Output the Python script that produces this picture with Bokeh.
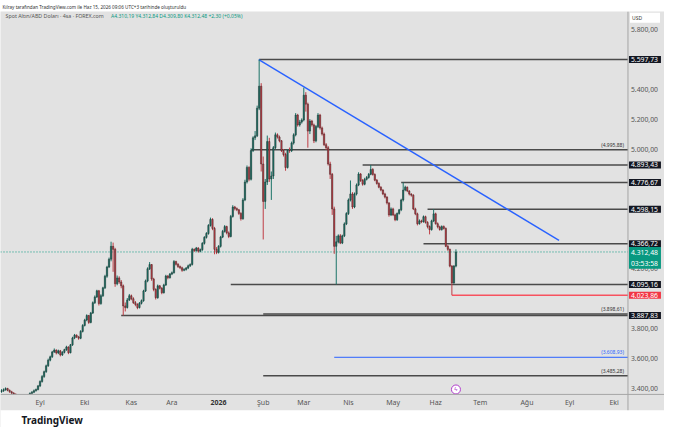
import numpy as np
import pandas as pd
from bokeh.plotting import figure
from bokeh.models import Range1d, Label, ColumnDataSource, Span
from bokeh.embed import file_html
from bokeh.resources import INLINE

# ---------------- data (daily bars) ----------------
first_bar = "2025-08-05"
last_bar = "2026-06-15"
axis_anchor = "2025-09-01"

opens = [3380, 3385, 3392, 3400, 3388, 3378, 3370, 3362, 3350, 3342,
         3336, 3345, 3338, 3346, 3354, 3368, 3376, 3386, 3394, 3418,
         3447, 3480, 3513, 3552, 3590, 3612, 3645, 3657, 3638, 3652,
         3625, 3642, 3660, 3678, 3640, 3692, 3738, 3757, 3745, 3736,
         3782, 3822, 3858, 3888, 3842, 3905, 3974, 4012, 4053, 3968,
         4020, 4073, 4150, 4212, 4264, 4350, 4330, 4100, 4139, 4112,
         4086, 3952, 3941, 3992, 4020, 4000, 3974, 3962, 3941, 3970,
         3987, 4052, 4119, 4200, 4228, 4132, 4062, 4007, 4086, 4070,
         4040, 4092, 4152, 4140, 4165, 4174, 4248, 4230, 4215, 4207,
         4190, 4196, 4205, 4220, 4229, 4330, 4322, 4339, 4318, 4328,
         4370, 4410, 4436, 4490, 4530, 4470, 4330, 4310, 4350, 4412,
         4450, 4482, 4440, 4416, 4550, 4613, 4602, 4594, 4570, 4534,
         4660, 4780, 4877, 4798, 4990, 5075, 5088, 5273, 5420, 4900,
         4650, 4780, 5050, 4800, 4820, 5009, 5095, 5080, 5055, 4990,
         4963, 4877, 4990, 4989, 5040, 5095, 5227, 5161, 5180, 5194,
         5360, 5300, 5120, 5187, 5161, 5055, 5150, 5227, 5141, 5100,
         5029, 5009, 4900, 4831, 4600, 4350, 4380, 4420, 4372, 4420,
         4500, 4569, 4660, 4700, 4613, 4700, 4760, 4833, 4790, 4765,
         4798, 4810, 4831, 4864, 4830, 4792, 4770, 4745, 4726, 4700,
         4679, 4640, 4560, 4600, 4560, 4528, 4570, 4594, 4660, 4726,
         4745, 4720, 4699, 4692, 4600, 4567, 4501, 4520, 4515, 4548,
         4510, 4482, 4462, 4520, 4567, 4501, 4480, 4462, 4482, 4470,
         4350, 4330, 4218, 4106, 4218]

highs = [3396, 3401, 3408, 3405, 3394, 3385, 3376, 3368, 3357, 3349,
         3352, 3350, 3353, 3360, 3374, 3383, 3394, 3400, 3424, 3455,
         3490, 3520, 3560, 3600, 3620, 3652, 3668, 3662, 3660, 3658,
         3650, 3666, 3686, 3682, 3698, 3746, 3765, 3762, 3752, 3790,
         3830, 3866, 3896, 3892, 3912, 3982, 4022, 4060, 4059, 4030,
         4080, 4160, 4220, 4275, 4381, 4375, 4340, 4155, 4150, 4125,
         4095, 3975, 4005, 4032, 4028, 4010, 3985, 3970, 3978, 3995,
         4060, 4128, 4210, 4245, 4232, 4140, 4070, 4095, 4092, 4078,
         4100, 4160, 4158, 4172, 4182, 4258, 4254, 4238, 4222, 4214,
         4204, 4212, 4228, 4236, 4340, 4336, 4346, 4344, 4335, 4378,
         4418, 4445, 4498, 4542, 4538, 4480, 4345, 4358, 4420, 4460,
         4492, 4488, 4450, 4560, 4625, 4620, 4610, 4600, 4578, 4672,
         4795, 4890, 4885, 5005, 5085, 5120, 5290, 5597.73, 5440, 4950,
         4800, 5090, 5075, 4850, 5020, 5110, 5105, 5090, 5060, 5000,
         4975, 5000, 5010, 5050, 5105, 5240, 5235, 5195, 5205, 5410,
         5380, 5310, 5200, 5195, 5170, 5160, 5240, 5235, 5150, 5110,
         5040, 5020, 4915, 4840, 4615, 4420, 4430, 4432, 4428, 4510,
         4578, 4670, 4790, 4712, 4710, 4770, 4845, 4840, 4800, 4808,
         4820, 4840, 4893.43, 4872, 4838, 4800, 4778, 4752, 4732, 4708,
         4685, 4645, 4610, 4608, 4568, 4576, 4600, 4668, 4776.67, 4755,
         4750, 4725, 4705, 4698, 4608, 4575, 4530, 4528, 4556, 4555,
         4518, 4490, 4528, 4598.15, 4575, 4510, 4488, 4490, 4490, 4476,
         4360, 4335, 4225, 4225, 4330]

lows = [3372, 3378, 3386, 3382, 3372, 3362, 3355, 3342, 3334, 3328,
        3330, 3330, 3332, 3340, 3348, 3362, 3370, 3380, 3388, 3410,
        3440, 3472, 3505, 3545, 3582, 3605, 3638, 3628, 3630, 3615,
        3618, 3635, 3652, 3630, 3635, 3685, 3730, 3738, 3726, 3730,
        3775, 3815, 3850, 3832, 3836, 3898, 3965, 4005, 3955, 3960,
        4012, 4065, 4140, 4205, 4250, 4180, 4080, 4090, 4100, 4070,
        3887.83, 3915, 3935, 3985, 3990, 3965, 3950, 3930, 3935, 3962,
        3980, 4045, 4110, 4192, 4120, 4050, 3995, 4000, 4062, 4030,
        4035, 4085, 4130, 4135, 4158, 4168, 4222, 4206, 4198, 4180,
        4184, 4188, 4198, 4212, 4222, 4312, 4315, 4308, 4310, 4320,
        4362, 4402, 4428, 4482, 4458, 4297, 4298, 4302, 4342, 4405,
        4442, 4430, 4405, 4410, 4542, 4590, 4585, 4560, 4522, 4528,
        4652, 4770, 4785, 4790, 4980, 5060, 5080, 5260, 4850, 4396,
        4600, 4760, 4780, 4660, 4800, 5000, 5070, 5045, 4980, 4950,
        4855, 4870, 4975, 4980, 5030, 5085, 5150, 5150, 5170, 5185,
        5250, 5009, 5100, 5150, 5040, 5045, 5140, 5130, 5090, 5020,
        4995, 4890, 4800, 4560, 4300, 4095.16, 4370, 4365, 4365, 4412,
        4492, 4560, 4650, 4600, 4605, 4690, 4752, 4780, 4755, 4758,
        4790, 4802, 4825, 4822, 4785, 4762, 4738, 4718, 4692, 4670,
        4630, 4548, 4552, 4552, 4518, 4520, 4562, 4585, 4650, 4718,
        4712, 4690, 4682, 4592, 4558, 4490, 4495, 4505, 4508, 4502,
        4470, 4430, 4455, 4512, 4495, 4470, 4455, 4455, 4462, 4345,
        4320, 4210, 4023.86, 4100, 4210]

closes = [3385, 3392, 3400, 3388, 3378, 3370, 3362, 3350, 3342, 3336,
          3345, 3338, 3346, 3354, 3368, 3376, 3386, 3394, 3418, 3447,
          3480, 3513, 3552, 3590, 3612, 3645, 3657, 3638, 3652, 3625,
          3642, 3660, 3678, 3640, 3692, 3738, 3757, 3745, 3736, 3782,
          3822, 3858, 3888, 3842, 3905, 3974, 4012, 4053, 3968, 4020,
          4073, 4150, 4212, 4264, 4350, 4330, 4100, 4139, 4112, 4086,
          3952, 3941, 3992, 4020, 4000, 3974, 3962, 3941, 3970, 3987,
          4052, 4119, 4200, 4228, 4132, 4062, 4007, 4086, 4070, 4040,
          4092, 4152, 4140, 4165, 4174, 4248, 4230, 4215, 4207, 4190,
          4196, 4205, 4220, 4229, 4330, 4322, 4339, 4318, 4328, 4370,
          4410, 4436, 4490, 4530, 4470, 4330, 4310, 4350, 4412, 4450,
          4482, 4440, 4416, 4550, 4613, 4602, 4594, 4570, 4534, 4660,
          4780, 4877, 4798, 4990, 5075, 5088, 5273, 5420, 4900, 4650,
          4780, 5050, 4800, 4820, 5009, 5095, 5080, 5055, 4990, 4963,
          4877, 4990, 4989, 5040, 5095, 5227, 5161, 5180, 5194, 5360,
          5300, 5120, 5187, 5161, 5055, 5150, 5227, 5141, 5100, 5029,
          5009, 4900, 4831, 4600, 4350, 4380, 4420, 4372, 4420, 4500,
          4569, 4660, 4700, 4613, 4700, 4760, 4833, 4790, 4765, 4798,
          4810, 4831, 4864, 4830, 4792, 4770, 4745, 4726, 4700, 4679,
          4640, 4560, 4600, 4560, 4528, 4570, 4594, 4660, 4726, 4745,
          4720, 4699, 4692, 4600, 4567, 4501, 4520, 4515, 4548, 4510,
          4482, 4462, 4520, 4567, 4501, 4480, 4462, 4482, 4470, 4350,
          4330, 4218, 4106, 4218, 4312.48]

# drawn horizontal levels (price, first bar index counted from axis_anchor)
level_prices = [5597.73, 4995.88, 4893.43, 4776.67, 4598.15, 4366.72, 4095.16, 3898.61, 3887.83, 3485.28]
level_start = [108, 104, 159, 178, 191, 189, 94, 110, 40, 110]
tagged_levels = [5597.73, 4893.43, 4776.67, 4598.15, 4366.72, 4095.16, 3887.83]
note_levels = [4995.88, 3898.61, 3485.28]
blue_level = [3608.93]
blue_level_start = [145]
red_level = [4023.86]
red_level_start = [203]
last_price = 4312.48
countdown = "03:53:58"

trend_x = [107.8, 255.8]
trend_y = [5597.73, 4390.0]

event_bar = [205]
event_price = [3394]

month_starts = ["2025-09-01", "2025-10-01", "2025-11-01", "2025-12-01", "2026-01-01",
                "2026-02-01", "2026-03-01", "2026-04-01", "2026-05-01", "2026-06-01",
                "2026-07-01", "2026-08-01", "2026-09-01", "2026-10-01"]
month_labels = ["Eyl", "Eki", "Kas", "Ara", "2026", "Şub", "Mar", "Nis", "May", "Haz",
                "Tem", "Ağu", "Eyl", "Eki"]

price_ticks = [3400, 3600, 3800, 4200, 5000, 5200, 5400, 5800]   # the ones not hidden by tags

header_text = "Kılray tarafından TradingView.com ile Haz 15, 2026 09:06 UTC+3 tarihinde oluşturuldu"
symbol_text = "Spot Altın/ABD Doları · 4sa · FOREX.com"
ohlc_text = "A4.310,19  Y4.312,84  D4.309,80  K4.312,48  +2,30 (+0,05%)"
brand_text = "TradingView"

# ---------------- styling ----------------
BG = "#e2e2e2"
UP = "#1b7468"
DOWN = "#bf3e46"
LEVEL = "#4a4a4a"
SCALE_LINE = "#a5a5a5"
FONT = "Noto Sans"


def tr(v):
    s = f"{v:,.2f}"
    return s.replace(",", "#").replace(".", ",").replace("#", ".")


dates = pd.bdate_range(first_bar, last_bar).values.astype("datetime64[D]")
anchor = np.datetime64(axis_anchor)
bar_x = np.busday_count(anchor, dates)
o = np.array(opens, float)
h = np.array(highs, float)
l = np.array(lows, float)
c = np.array(closes, float)
assert len(bar_x) == len(o) == len(h) == len(l) == len(c)

src = ColumnDataSource(dict(x=bar_x, h=h, l=l, top=np.maximum(o, c), bottom=np.minimum(o, c),
                            color=np.where(c >= o, UP, DOWN)))

X0, X1, XR = -19.5, 289.8, 307.8               # chart start, price-scale border, window edge
YW, YB, YP, Y1 = 3140.0, 3255.5, 3361.0, 5918.7  # page bottom, time-strip bottom, pane bottom, pane top
Y_BRAND = 3190.0

p = figure(width=664, height=427, output_backend="svg", toolbar_location=None,
           x_range=Range1d(X0, XR), y_range=Range1d(YW, Y1),
           x_axis_location=None, y_axis_location=None,
           background_fill_color=BG, border_fill_color="white",
           min_border_left=0, min_border_right=0, min_border_top=0, min_border_bottom=0)
p.grid.visible = False
p.outline_line_color = None

p.title.text = header_text
p.title.text_font = FONT
p.title.text_font_size = "4.6px"
p.title.text_font_style = "normal"
p.title.text_color = "#333333"
p.title.offset = 2
p.title.standoff = 3

# current price dotted line
p.line([X0, X1], [last_price, last_price], line_color="#089981", line_width=1, line_dash="1 2")

# horizontal levels
p.segment(x0=level_start, y0=level_prices, x1=[X1] * len(level_prices), y1=level_prices,
          line_color=LEVEL, line_width=1.5)
p.segment(x0=blue_level_start, y0=blue_level, x1=[X1], y1=blue_level, line_color="#2962ff", line_width=1)
p.segment(x0=red_level_start, y0=red_level, x1=[X1], y1=red_level, line_color="#f7525f", line_width=1.5)

# trend line
p.line(trend_x, trend_y, line_color="#2962ff", line_width=1.4)

# candles
p.segment(x0="x", y0="l", x1="x", y1="h", line_color="color", line_width=1, source=src)
p.vbar(x="x", width=0.7, top="top", bottom="bottom", fill_color="color", line_color="#222222",
       line_width=0.4, source=src)

# time strip (covers what falls below the pane) with month labels
p.quad(left=[X0], right=[XR], bottom=[YB], top=[YP], fill_color=BG, line_color=None)
p.add_layout(Span(location=YP, dimension="width", line_color=SCALE_LINE, line_width=1))
month_x = np.busday_count(anchor, np.array(month_starts, dtype="datetime64[D]"))
is_year = [lab.isdigit() for lab in month_labels]
msrc = ColumnDataSource(dict(x=month_x, y=[(YB + YP) / 2] * len(month_x), text=month_labels,
                             style=["bold" if f else "normal" for f in is_year],
                             color=["#333333" if f else "#555555" for f in is_year]))
p.text(x="x", y="y", text="text", text_font_style="style", text_color="color", source=msrc,
       text_font_size="7px", text_align="center", text_baseline="middle", text_font={"value": FONT})

# white page area below the chart with the brand
p.quad(left=[X0], right=[XR], bottom=[YW], top=[YB], fill_color="white", line_color=None)
p.text(x=[-9.2], y=[Y_BRAND], text=[brand_text], text_font_size="10px",
       text_font_style="bold", text_color="#131722", text_align="left", text_baseline="middle",
       text_font={"value": FONT})

# event marker
p.scatter(event_bar, event_price, size=9, marker="circle", fill_color="white",
          line_color="#b13bcc", line_width=1)
p.text(event_bar, event_price, text=["ϟ"], text_font_size="6px", text_align="center",
       text_baseline="middle", text_color="#b13bcc")

# price scale border and labels
p.segment(x0=[X1], y0=[YB], x1=[X1], y1=[Y1], line_color=SCALE_LINE, line_width=1)
p.text(x=[X1] * len(price_ticks), y=price_ticks, text=[tr(t) for t in price_ticks], x_offset=3,
       text_font_size="6.8px", text_color="#555555", text_align="left", text_baseline="middle",
       text_font={"value": FONT})

# symbol legend
p.add_layout(Label(x=-17.0, y=5886, text=symbol_text, text_font=FONT, text_font_size="5.3px",
                   text_color="#555555", text_baseline="middle"))
p.add_layout(Label(x=35.0, y=5886, text=ohlc_text, text_font=FONT, text_font_size="5px",
                   text_color="#089981", text_baseline="middle"))

# notes above levels
for v in note_levels:
    p.add_layout(Label(x=X1, y=v, x_offset=-4, y_offset=2, text=f"({tr(v)})", text_align="right",
                       text_baseline="bottom", text_font=FONT, text_font_size="5px", text_color="#333333"))
p.add_layout(Label(x=X1, y=blue_level[0], x_offset=-4, y_offset=2, text=f"({tr(blue_level[0])})",
                   text_align="right", text_baseline="bottom", text_font=FONT, text_font_size="5px",
                   text_color="#2962ff"))

# price tags on the scale
pad = dict(left=2, right=3, top=1, bottom=1)
for v in tagged_levels:
    p.add_layout(Label(x=X1, y=v, x_offset=1, text=tr(v), text_align="left", text_baseline="middle",
                       text_font=FONT, text_font_size="6.8px", text_color="white",
                       background_fill_color="#131722", padding=pad))
p.add_layout(Label(x=X1, y=red_level[0], x_offset=1, text=tr(red_level[0]), text_align="left",
                   text_baseline="middle", text_font=FONT, text_font_size="6.8px", text_color="white",
                   background_fill_color="#f23645", padding=pad))
p.add_layout(Label(x=X1, y=last_price, x_offset=1, y_offset=5, text=f"{tr(last_price)}\n{countdown}",
                   text_align="left", text_baseline="top", text_font=FONT, text_font_size="6.8px",
                   text_color="white", background_fill_color="#089981", padding=pad))
p.add_layout(Label(x=X1, y=5877, x_offset=2, text="USD", text_align="left", text_baseline="middle",
                   text_font=FONT, text_font_size="5px", text_color="#333333",
                   background_fill_color="white", padding=dict(left=2, right=18, top=2, bottom=2)))

open("out.html", "w").write(file_html(p, INLINE))
